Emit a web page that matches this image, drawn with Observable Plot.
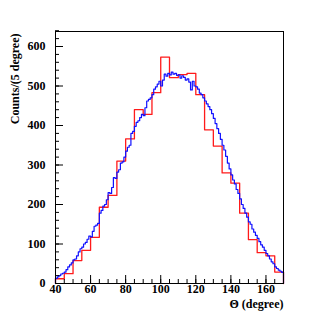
<!DOCTYPE html>
<html>
<head>
<meta charset="utf-8">
<script src="https://cdn.jsdelivr.net/npm/d3@7"></script>
<script src="https://cdn.jsdelivr.net/npm/@observablehq/plot@0.6"></script>
<style>
  html, body { margin: 0; padding: 0; background: #fff; }
</style>
</head>
<body>
<div id="chart"></div>
<script>
// Red histogram: 5-degree bins, left edges 40..165
const redEdges = [40,45,50,55,60,65,70,75,80,85,90,95,100,105,110,115,120,125,130,135,140,145,150,155,160,165];
const redCounts = [12,25,58,84,117,193,223,310,366,440,428,483,573,521,529,532,478,389,348,280,254,178,111,78,70,29];

// Blue histogram: 1-degree bins, left edges 40..169 (scaled to counts per 5 degree)
const blueEdges = d3.range(40, 170, 1);
const blueCounts = [
  13,17,20,24,26,29,35,42,47,52,
  60,62,70,80,88,92,100,104,112,120,
  118,132,145,148,152,178,185,196,200,212,
  230,228,243,268,266,282,288,305,308,320,
  335,345,350,380,385,398,408,412,420,428,
  425,445,462,466,470,478,492,498,505,512,
  500,515,530,525,532,528,535,530,532,527,
  528,520,526,522,515,518,510,490,512,500,
  498,492,482,478,470,462,455,448,440,430,
  418,405,392,380,365,350,338,322,305,290,
  275,262,252,238,228,214,200,190,178,168,
  156,150,138,130,122,114,106,98,92,84,
  76,70,62,55,50,42,38,34,31,28
];

const xMajor = [40,60,80,100,120,140,160];
const xMinor = d3.range(40, 171, 5);
const yMajor = [0,100,200,300,400,500,600];
const yMinor = d3.range(0, 641, 20);

function outline(edges, counts, width) {
  const pts = [{x: edges[0], y: 0}];
  edges.forEach((e, i) => pts.push({x: e, y: counts[i]}));
  const last = edges[edges.length - 1] + width;
  pts.push({x: last, y: counts[counts.length - 1]});
  pts.push({x: last, y: 0});
  return pts;
}

const redPts = outline(redEdges, redCounts, 5);
const bluePts = outline(blueEdges, blueCounts, 1);

const font = "'Liberation Serif', 'Times New Roman', serif";

const chart = Plot.plot({
  width: 315,
  height: 315,
  marginLeft: 55,
  marginRight: 32,
  marginTop: 31,
  marginBottom: 32,
  style: {fontFamily: font, fontSize: "12px", fontWeight: "bold", background: "#fff", color: "#000"},
  x: {domain: [40, 170]},
  y: {domain: [0, 638]},
  marks: [
    Plot.line(redPts, {x: "x", y: "y", curve: "step-after", stroke: "#ff1a1a", strokeWidth: 1.3}),
    Plot.line(bluePts, {x: "x", y: "y", curve: "step-after", stroke: "#1010ff", strokeWidth: 1.2}),
    Plot.frame({stroke: "#000", strokeWidth: 1}),
    Plot.axisX({ticks: xMinor, tickSize: -4, tickFormat: () => "", label: null}),
    Plot.axisX({ticks: xMajor, tickSize: -8, tickFormat: () => "", label: null}),
    Plot.axisX({ticks: xMajor, tickSize: 0, tickPadding: 1, label: null, fontWeight: "bold"}),
    Plot.axisY({ticks: yMinor, tickSize: -4, tickFormat: () => "", label: null}),
    Plot.axisY({ticks: yMajor, tickSize: -8, tickFormat: () => "", label: null}),
    Plot.axisY({ticks: yMajor, tickSize: 0, tickPadding: 10, label: null, fontWeight: "bold"}),
    Plot.text(["Θ (degree)"], {frameAnchor: "bottom-right", dy: 24, textAnchor: "end", fontWeight: "bold", fontSize: 12}),
    Plot.text(["Counts/(5 degree)"], {frameAnchor: "top-left", dx: -45, dy: 2, rotate: -90, textAnchor: "end", fontWeight: "bold", fontSize: 12})
  ]
});
document.getElementById("chart").appendChild(chart);
</script>
</body>
</html>
